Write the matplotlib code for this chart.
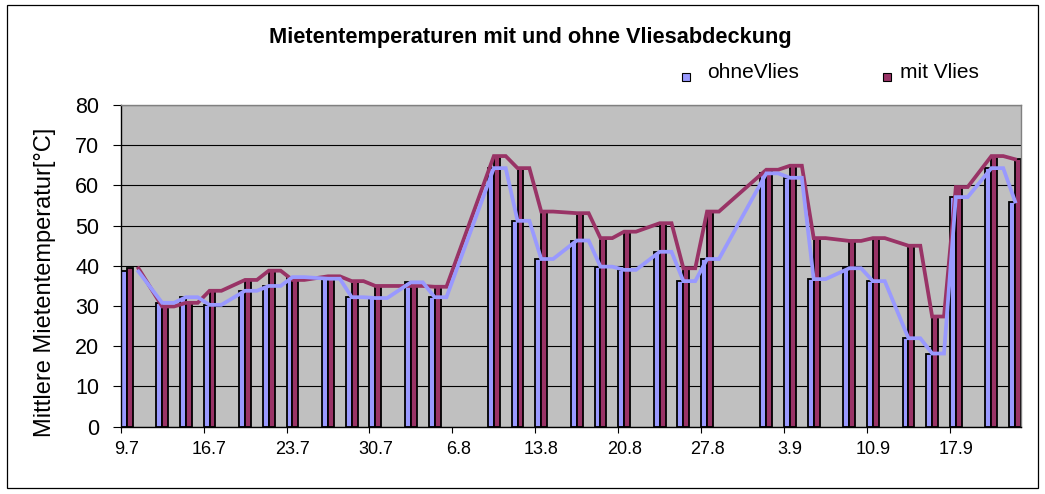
import datetime as dt
import matplotlib
matplotlib.use("Agg")
import matplotlib.pyplot as plt
from matplotlib.patches import Rectangle
from matplotlib.ticker import FixedLocator, NullFormatter, FixedFormatter

plt.rcParams['font.family'] = ['Liberation Sans', 'DejaVu Sans']

# ---- data ----
dates = ["9.7", "12.7", "14.7", "16.7", "19.7", "21.7", "23.7", "26.7", "28.7", "30.7",
         "2.8", "4.8", "9.8", "11.8", "13.8", "16.8", "18.8", "20.8", "23.8", "25.8",
         "27.8", "1.9", "3.9", "5.9", "8.9", "10.9", "13.9", "15.9", "17.9", "20.9", "22.9"]
ohne_vlies = [38.6, 30.8, 32.2, 30.3, 33.8, 35.0, 37.2, 36.8, 32.2, 32.0,
              35.9, 32.2, 64.3, 51.2, 41.7, 46.3, 39.8, 39.0, 43.5, 36.2,
              41.7, 63.0, 61.9, 36.7, 39.4, 36.2, 22.0, 18.2, 57.1, 64.3, 56.0]
mit_vlies = [39.4, 29.9, 30.8, 33.8, 36.5, 38.8, 36.5, 37.4, 36.2, 35.0,
             35.0, 34.8, 67.3, 64.3, 53.5, 53.1, 46.9, 48.5, 50.6, 39.4,
             53.5, 63.9, 64.9, 46.9, 46.2, 46.9, 45.0, 27.4, 59.6, 67.3, 66.5]
tick_labels = ["9.7", "16.7", "23.7", "30.7", "6.8", "13.8", "20.8", "27.8", "3.9", "10.9", "17.9"]
title = "Mietentemperaturen mit und ohne Vliesabdeckung"
ylabel = "Mittlere Mietentemperatur[°C]"
series_names = ["ohneVlies", "mit Vlies"]

BLUE = "#9999FF"
RED = "#993366"

start = dt.date(2006, 7, 9)


def to_day(s):
    d, m = s.split(".")
    return (dt.date(2006, int(m), int(d)) - start).days


days = [to_day(s) for s in dates]
tick_days = [to_day(s) for s in tick_labels]

W, H = 1045, 494
fig = plt.figure(figsize=(W / 100, H / 100), dpi=100)
fig.patch.set_facecolor("white")

ax = fig.add_axes([120.7 / W, 1 - 426.7 / H, (1021 - 120.7) / W, (426.7 - 105) / H])
ax.set_facecolor("#C0C0C0")

# bars: each date occupies a one-day slot, two bars side by side
ax.bar(days, ohne_vlies, width=0.5, align="edge", color=BLUE, edgecolor="black",
       linewidth=1.3, zorder=2)
ax.bar([d + 0.5 for d in days], mit_vlies, width=0.5, align="edge", color=RED,
       edgecolor="black", linewidth=1.3, zorder=2)

# lines: each value is held over its slot centre and the following day
def line_pts(vals):
    xs, ys = [], []
    n = len(days)
    for i, (d, v) in enumerate(zip(days, vals)):
        if i > 0:
            xs.append(d + 0.5); ys.append(v)
        if i < n - 1:
            xs.append(d + 1.5); ys.append(v)
    return xs, ys

xr, yr = line_pts(mit_vlies)
xb, yb = line_pts(ohne_vlies)
ax.plot(xr, yr, color=RED, lw=2.7, zorder=3, solid_joinstyle="miter")
ax.plot(xb, yb, color=BLUE, lw=2.7, zorder=4, solid_joinstyle="miter")

ax.set_xlim(0, 76)
ax.set_ylim(0, 80)
ax.set_yticks(range(0, 81, 10))
ax.yaxis.grid(True, color="black", lw=0.8)
ax.set_axisbelow(True)

ax.xaxis.set_major_locator(FixedLocator(tick_days))
ax.xaxis.set_major_formatter(NullFormatter())
ax.xaxis.set_minor_locator(FixedLocator([t + 0.5 for t in tick_days]))
ax.xaxis.set_minor_formatter(FixedFormatter(tick_labels))
ax.tick_params(axis="x", which="major", direction="out", length=4.3, width=0.8, color="black")
ax.tick_params(axis="x", which="minor", length=0, pad=10.5, labelsize=13)
ax.tick_params(axis="y", direction="out", length=5.8, width=0.8, pad=9.5, labelsize=15.5)

for side in ("left", "bottom"):
    ax.spines[side].set_color("black")
    ax.spines[side].set_linewidth(1.0)
for side in ("top", "right"):
    ax.spines[side].set_color("#808080")
    ax.spines[side].set_linewidth(1.0)

fig.text(45 / W, 1 - 282.5 / H, ylabel, rotation=90, ha="center", va="center", fontsize=17)
fig.text(530 / W, 1 - 42.7 / H, title, ha="center", va="baseline", fontsize=15.7,
         fontweight="bold")

# legend
for (mx, tx), name, col in zip([(682, 706.7), (883, 900)], series_names, [BLUE, RED]):
    fig.patches.append(Rectangle((mx / W, 1 - 81 / H), 8 / W, 8 / H, transform=fig.transFigure,
                                 facecolor=col, edgecolor="black", lw=0.8))
    fig.text(tx / W, 1 - 78 / H, name, ha="left", va="baseline", fontsize=15)

# outer frame
fig.patches.append(Rectangle((7 / W, 1 - 488 / H), (1038 - 7) / W, (488 - 5) / H,
                             transform=fig.transFigure, fill=False, edgecolor="black", lw=0.9))

fig.savefig("out.png", dpi=100)
